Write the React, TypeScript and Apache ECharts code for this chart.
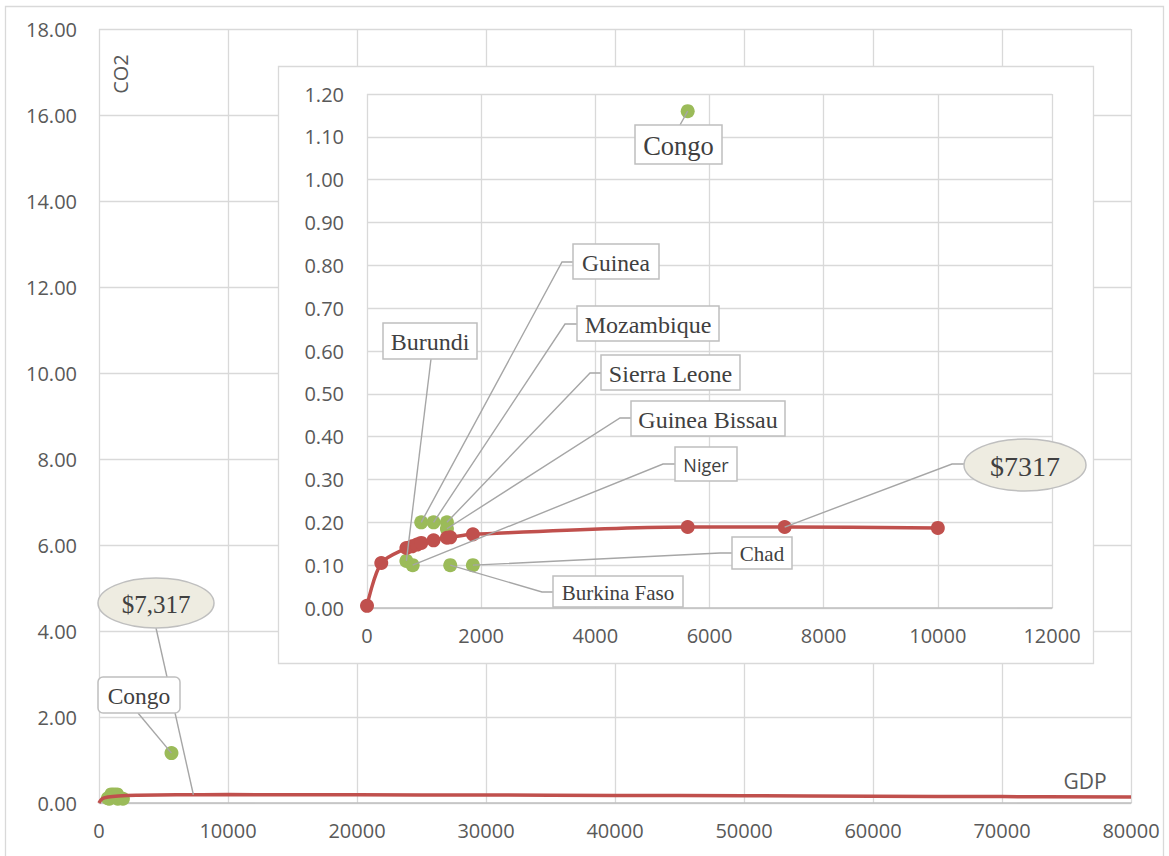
import React, { useEffect, useRef } from "react";
import * as echarts from "echarts";

// Inset red series (GDP vs CO2 per capita, ordered by GDP)
const lineGdp = [0, 250, 690, 787, 875, 950, 1166, 1400, 1458, 1855, 5618, 7317, 10000];
const lineCo2 = [0.005, 0.105, 0.14, 0.144, 0.148, 0.152, 0.158, 0.164, 0.165, 0.172, 0.189, 0.189, 0.187];

// Main chart red curve
const trendGdp = [0, 250, 700, 1500, 3000, 6000, 10000, 20000, 30000, 40000, 50000, 60000, 70000, 80000];
const trendCo2 = [0, 0.1, 0.14, 0.165, 0.18, 0.19, 0.195, 0.19, 0.185, 0.177, 0.168, 0.158, 0.149, 0.14];

// Green country points
const countries = ["Congo", "Guinea", "Mozambique", "Sierra Leone", "Guinea Bissau", "Burundi", "Niger", "Burkina Faso", "Chad"];
const countryGdp = [5618, 950, 1166, 1400, 1400, 690, 800, 1458, 1855];
const countryCo2 = [1.16, 0.2, 0.2, 0.2, 0.185, 0.11, 0.1, 0.1, 0.1];

const highlightGdp = 7317;
const highlightCo2 = 0.189;

const RED = "#c0504d";
const GREEN = "#9bbb59";
const GRID = "#d9d9d9";
const LABEL = "#595959";
const SANS = '"Open Sans", "Noto Sans", sans-serif';
const SERIF = '"Liberation Serif", "DejaVu Serif", serif';

export default function App() {
  const ref = useRef<HTMLDivElement>(null);

  useEffect(() => {
    if (!ref.current) return;
    const chart = echarts.init(ref.current, undefined, { renderer: "svg" });

    const linePts = lineGdp.map((g, i) => [g, lineCo2[i]]);
    const trendPts = trendGdp.map((g, i) => [g, trendCo2[i]]);
    const ctyPts = countryGdp.map((g, i) => [g, countryCo2[i], countries[i]]);

    const axisLabel = (size: number, margin: number, fmt: (v: number) => string) => ({
      color: LABEL,
      fontFamily: SANS,
      fontSize: size,
      margin,
      formatter: fmt,
    });
    const plain = (v: number) => String(v);
    const two = (v: number) => v.toFixed(2);

    chart.setOption({
      animation: false,
      backgroundColor: "#ffffff",
      grid: [
        { left: 99, top: 29, width: 1032, height: 774 },
        { left: 367, top: 94, width: 685, height: 514 },
      ],
      xAxis: [
        {
          type: "value",
          gridIndex: 0,
          min: 0,
          max: 80000,
          interval: 10000,
          z: 0,
          axisLine: { show: true, lineStyle: { color: "#bfbfbf", width: 1.5 } },
          axisTick: { show: false },
          splitLine: { show: true, lineStyle: { color: GRID, width: 1.3 } },
          axisLabel: axisLabel(20, 17, plain),
        },
        {
          type: "value",
          gridIndex: 1,
          min: 0,
          max: 12000,
          interval: 2000,
          z: 2,
          axisLine: { show: true, lineStyle: { color: "#bfbfbf", width: 1.5 } },
          axisTick: { show: false },
          splitLine: { show: true, lineStyle: { color: GRID, width: 1.3 } },
          axisLabel: axisLabel(20, 17, plain),
        },
      ],
      yAxis: [
        {
          type: "value",
          gridIndex: 0,
          min: 0,
          max: 18,
          interval: 2,
          z: 0,
          axisLine: { show: false },
          axisTick: { show: false },
          splitLine: { show: true, lineStyle: { color: GRID, width: 1.3 } },
          axisLabel: axisLabel(20, 22, two),
        },
        {
          type: "value",
          gridIndex: 1,
          min: 0,
          max: 1.2,
          interval: 0.1,
          z: 2,
          axisLine: { show: false },
          axisTick: { show: false },
          splitLine: { show: true, lineStyle: { color: GRID, width: 1.3 } },
          axisLabel: axisLabel(20, 23, two),
        },
      ],
      series: [
        {
          type: "scatter",
          xAxisIndex: 0,
          yAxisIndex: 0,
          data: ctyPts,
          symbolSize: 14,
          itemStyle: { color: GREEN, opacity: 1 },
          z: 2,
        },
        {
          type: "line",
          xAxisIndex: 0,
          yAxisIndex: 0,
          data: trendPts,
          smooth: 0.4,
          showSymbol: false,
          lineStyle: { color: RED, width: 3.5 },
          z: 3,
        },
        {
          type: "scatter",
          xAxisIndex: 1,
          yAxisIndex: 1,
          data: ctyPts,
          symbolSize: 14,
          itemStyle: { color: GREEN, opacity: 1 },
          z: 3,
        },
        {
          type: "line",
          xAxisIndex: 1,
          yAxisIndex: 1,
          data: linePts,
          smooth: 0.3,
          symbol: "circle",
          symbolSize: 14,
          showAllSymbol: true,
          itemStyle: { color: RED, opacity: 1 },
          lineStyle: { color: RED, width: 3.5 },
          z: 4,
        },
      ],
    });

    const pIn = (x: number, y: number) => chart.convertToPixel({ gridIndex: 1 }, [x, y]) as number[];
    const pMain = (x: number, y: number) => chart.convertToPixel({ gridIndex: 0 }, [x, y]) as number[];
    const ctyIn = (name: string) => {
      const i = countries.indexOf(name);
      return pIn(countryGdp[i], countryCo2[i]);
    };

    const LEAD = { stroke: "#a6a6a6", lineWidth: 1.4, fill: null };
    const graphics: any[] = [];

    // outer chart border
    graphics.push({ type: "rect", z: 0, shape: { x: 5.5, y: 6.5, width: 1158, height: 870 }, style: { fill: "transparent", stroke: GRID, lineWidth: 1.3 } });
    // inset panel background
    graphics.push({ type: "rect", z: 1, shape: { x: 278.5, y: 66.5, width: 815, height: 597 }, style: { fill: "#ffffff", stroke: GRID, lineWidth: 1.3 } });

    const box = (txt: string, x: number, y: number, w: number, h: number, size: number, font = SERIF, r = 0) => {
      graphics.push({ type: "rect", z: 6, shape: { x, y, width: w, height: h, r }, style: { fill: "#ffffff", stroke: "#bfbfbf", lineWidth: 1.5 } });
      graphics.push({ type: "text", z: 7, x: x + w / 2, y: y + h / 2 + 1, style: { text: txt, font: `${size}px ${font}`, fill: "#404040", align: "center", verticalAlign: "middle" } });
    };
    const oval = (txt: string, cx: number, cy: number, rx: number, ry: number, size: number) => {
      graphics.push({ type: "ellipse", z: 6, shape: { cx, cy, rx, ry }, style: { fill: "#eeece1", stroke: "#bfbfbf", lineWidth: 1.5 } });
      graphics.push({ type: "text", z: 7, x: cx, y: cy + 1, style: { text: txt, font: `${size}px ${SERIF}`, fill: "#404040", align: "center", verticalAlign: "middle" } });
    };
    const lead = (pts: number[][]) => graphics.push({ type: "polyline", z: 5, shape: { points: pts }, style: LEAD });

    // Inset callouts
    lead([ctyIn("Congo"), [680, 125]]);
    box("Congo", 635, 125, 87, 39, 26.5);

    lead([ctyIn("Guinea"), [562, 262], [573, 262]]);
    box("Guinea", 573, 244, 86, 35, 23.5);

    lead([ctyIn("Mozambique"), [565, 324], [577, 324]]);
    box("Mozambique", 577, 306, 142, 35, 24);

    lead([ctyIn("Sierra Leone"), [590, 373], [601, 373]]);
    box("Sierra Leone", 601, 355, 139, 35, 24);

    lead([ctyIn("Guinea Bissau"), [620, 418], [631, 418]]);
    box("Guinea Bissau", 631, 401, 154, 35, 24);

    lead([ctyIn("Niger"), [663, 464], [675, 464]]);
    box("Niger", 675, 447, 62, 34, 18, SANS);

    lead([ctyIn("Burundi"), [431, 359]]);
    box("Burundi", 383, 323, 94, 36, 24);

    lead([ctyIn("Chad"), [720, 553], [732, 553]]);
    box("Chad", 732, 537, 60, 32, 21);

    lead([ctyIn("Burkina Faso"), [542, 592], [553, 592]]);
    box("Burkina Faso", 553, 576, 130, 31, 21);

    lead([pIn(highlightGdp, highlightCo2), [952, 464], [964, 464]]);
    oval("$7317", 1025, 465, 61, 26, 28);

    // Main chart callouts
    const mainCongo = pMain(countryGdp[0], countryCo2[0]);
    lead([mainCongo, [138, 713]]);
    box("Congo", 98, 677, 82, 36, 23.5, SERIF, 5);

    lead([pMain(highlightGdp, 0.192), [156, 628]]);
    oval("$7,317", 156, 603, 58, 25, 25);

    // Axis titles
    graphics.push({ type: "text", z: 2, x: 120, y: 74, rotation: Math.PI / 2, style: { text: "CO2", font: `20px ${SANS}`, fill: LABEL, align: "center", verticalAlign: "middle" } });
    graphics.push({ type: "text", z: 2, x: 1085, y: 781, style: { text: "GDP", font: `21px ${SANS}`, fill: LABEL, align: "center", verticalAlign: "middle" } });

    chart.setOption({ graphic: graphics });

    return () => chart.dispose();
  }, []);

  return <div ref={ref} style={{ position: "fixed", left: 0, top: 0, width: 1169, height: 856 }} />;
}
